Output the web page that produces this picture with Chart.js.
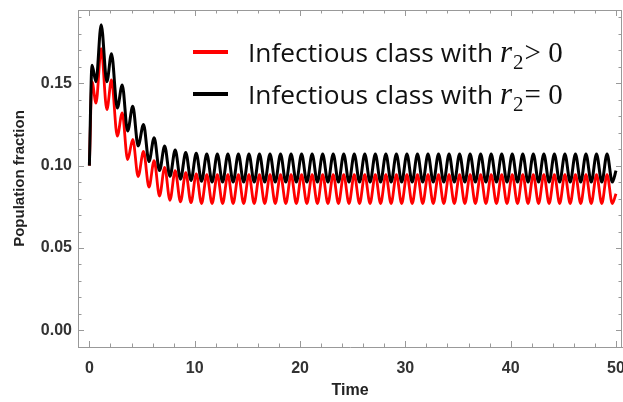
<!DOCTYPE html>
<html><head><meta charset="utf-8">
<script src="https://cdn.jsdelivr.net/npm/chart.js@4.4.1/dist/chart.umd.min.js"></script>
<style>html,body{margin:0;padding:0;background:#fff;overflow:hidden}#c{display:block}</style>
</head><body>
<canvas id="c" width="623" height="402"></canvas>
<script>
// ---- data ----
const times = [0,
  0.25, 0.63, 1.12, 1.66, 2.10, 2.65, 3.12, 3.63, 4.12, 4.63,
  5.14, 5.66, 6.15, 6.66, 7.15, 7.65, 8.15, 8.65, 9.15, 9.65,
  10.15, 10.65, 11.15, 11.65, 12.15, 12.65, 13.15, 13.65, 14.15, 14.65,
  15.15, 15.65, 16.15, 16.65, 17.15, 17.65, 18.15, 18.65, 19.15, 19.65,
  20.15, 20.65, 21.15, 21.65, 22.15, 22.65, 23.15, 23.65, 24.15, 24.65,
  25.15, 25.65, 26.15, 26.65, 27.15, 27.65, 28.15, 28.65, 29.15, 29.65,
  30.15, 30.65, 31.15, 31.65, 32.15, 32.65, 33.15, 33.65, 34.15, 34.65,
  35.15, 35.65, 36.15, 36.65, 37.15, 37.65, 38.15, 38.65, 39.15, 39.65,
  40.15, 40.65, 41.15, 41.65, 42.15, 42.65, 43.15, 43.65, 44.15, 44.65,
  45.15, 45.65, 46.15, 46.65, 47.15, 47.65, 48.15, 48.65, 49.15, 49.65,
  50];

const infectiousR2Positive = [0.100,
  0.151, 0.138, 0.171, 0.134, 0.152, 0.118, 0.132, 0.1036, 0.116, 0.0934,
  0.1086, 0.087, 0.103, 0.0815, 0.099, 0.079, 0.097, 0.078, 0.0957, 0.0775,
  0.095, 0.077, 0.0945, 0.077, 0.0945, 0.077, 0.0945, 0.077, 0.0945, 0.077,
  0.0945, 0.077, 0.0945, 0.077, 0.0945, 0.077, 0.0945, 0.077, 0.0945, 0.077,
  0.0945, 0.077, 0.0945, 0.077, 0.0945, 0.077, 0.0945, 0.077, 0.0945, 0.077,
  0.0945, 0.077, 0.0945, 0.077, 0.0945, 0.077, 0.0945, 0.077, 0.0945, 0.077,
  0.0945, 0.077, 0.0945, 0.077, 0.0945, 0.077, 0.0945, 0.077, 0.0945, 0.077,
  0.0945, 0.077, 0.0945, 0.077, 0.0945, 0.077, 0.0945, 0.077, 0.0945, 0.077,
  0.0945, 0.077, 0.0945, 0.077, 0.0945, 0.077, 0.0945, 0.077, 0.0945, 0.077,
  0.0945, 0.077, 0.0945, 0.077, 0.0945, 0.077, 0.0945, 0.077, 0.0945, 0.077,
  0.083];

const infectiousR2Zero = [0.100,
  0.161, 0.151, 0.1856, 0.151, 0.168, 0.135, 0.149, 0.121, 0.136, 0.112,
  0.125, 0.1025, 0.117, 0.097, 0.112, 0.0935, 0.1095, 0.0918, 0.108, 0.091,
  0.1075, 0.0905, 0.107, 0.090, 0.107, 0.090, 0.107, 0.090, 0.107, 0.090,
  0.107, 0.090, 0.107, 0.090, 0.107, 0.090, 0.107, 0.090, 0.107, 0.090,
  0.107, 0.090, 0.107, 0.090, 0.107, 0.090, 0.107, 0.090, 0.107, 0.090,
  0.107, 0.090, 0.107, 0.090, 0.107, 0.090, 0.107, 0.090, 0.107, 0.090,
  0.107, 0.090, 0.107, 0.090, 0.107, 0.090, 0.107, 0.090, 0.107, 0.090,
  0.107, 0.090, 0.107, 0.090, 0.107, 0.090, 0.107, 0.090, 0.107, 0.090,
  0.107, 0.090, 0.107, 0.090, 0.107, 0.090, 0.107, 0.090, 0.107, 0.090,
  0.107, 0.090, 0.107, 0.090, 0.107, 0.090, 0.107, 0.090, 0.107, 0.090,
  0.097];

const xTickLabels = [0, 10, 20, 30, 40, 50];
const yTickLabels = ["0.00", "0.05", "0.10", "0.15"];
const legendTexts = ["Infectious class with ", "Infectious class with "];
const legendRelations = ["> 0", "= 0"];
const seriesColors = ["#ff0000", "#000000"];

// ---- helpers ----
const toPoints = (ys) => times.map((t, i) => ({x: t, y: ys[i]}));
const isMajorY = (v) => yTickLabels.some(l => Math.abs(parseFloat(l) - v) < 1e-9);
const isMajorX = (v) => xTickLabels.some(l => Math.abs(l - v) < 1e-9);
const AXIS_GRAY = '#999999';
const LABEL_FONT = {family: '"Liberation Sans", Arial, sans-serif', size: 16, weight: 'bold'};

const frameTicks = {
  id: 'frameTicks',
  afterDatasetsDraw(chart) {
    const {ctx, chartArea: a, scales: {x, y}} = chart;
    ctx.save();
    ctx.strokeStyle = AXIS_GRAY;
    ctx.lineWidth = 1;
    ctx.beginPath();
    ctx.moveTo(a.left, a.top + 0.5); ctx.lineTo(a.right, a.top + 0.5);
    ctx.moveTo(a.right - 0.5, a.top); ctx.lineTo(a.right - 0.5, a.bottom);
    x.ticks.forEach(t => {
      const px = Math.round(x.getPixelForValue(t.value)) + 0.5;
      const L = isMajorX(t.value) ? 6 : 3.5;
      ctx.moveTo(px, a.bottom); ctx.lineTo(px, a.bottom - L);
      ctx.moveTo(px, a.top); ctx.lineTo(px, a.top + L);
    });
    y.ticks.forEach(t => {
      if (t.value < y.min || t.value > y.max) return;
      const py = Math.round(y.getPixelForValue(t.value)) + 0.5;
      const L = isMajorY(t.value) ? 6 : 3.5;
      ctx.moveTo(a.left, py); ctx.lineTo(a.left + L, py);
      ctx.moveTo(a.right, py); ctx.lineTo(a.right - L, py);
    });
    ctx.stroke();
    ctx.restore();
  }
};

const mathLegend = {
  id: 'mathLegend',
  afterDraw(chart) {
    const ctx = chart.ctx;
    ctx.save();
    legendTexts.forEach((txt, i) => {
      const yc = 52 + i * 42;
      ctx.strokeStyle = seriesColors[i];
      ctx.lineWidth = 4;
      ctx.beginPath(); ctx.moveTo(193, yc); ctx.lineTo(228, yc); ctx.stroke();
      const base = yc + 10;
      ctx.fillStyle = '#111';
      ctx.textBaseline = 'alphabetic';
      ctx.textAlign = 'left';
      ctx.font = '26px "Open Sans", "Noto Sans", sans-serif';
      const w = ctx.measureText(txt).width;
      const target = 252;
      ctx.save();
      ctx.translate(248, base);
      ctx.scale(target / w, 1);
      ctx.fillText(txt, 0, 0);
      ctx.restore();
      let xx = 248 + target;
      ctx.font = 'italic 31px "Liberation Serif", "DejaVu Serif", serif';
      ctx.fillText('r', xx, base);
      xx += ctx.measureText('r').width + 1;
      ctx.font = '21px "Liberation Serif", "DejaVu Serif", serif';
      ctx.fillText('2', xx, base + 7);
      xx += ctx.measureText('2').width + 1;
      ctx.font = '29px "Liberation Serif", "DejaVu Serif", serif';
      ctx.fillText(legendRelations[i], xx, base);
    });
    ctx.restore();
  }
};

new Chart(document.getElementById('c'), {
  type: 'line',
  data: {
    datasets: [
      {label: 'Infectious class with r2 > 0', data: toPoints(infectiousR2Positive),
       borderColor: seriesColors[0], borderWidth: 2.8, pointRadius: 0, fill: false,
       cubicInterpolationMode: 'monotone', order: 1},
      {label: 'Infectious class with r2 = 0', data: toPoints(infectiousR2Zero),
       borderColor: seriesColors[1], borderWidth: 3, pointRadius: 0, fill: false,
       cubicInterpolationMode: 'monotone', order: 0}
    ]
  },
  options: {
    responsive: false,
    animation: false,
    devicePixelRatio: 1,
    layout: {padding: {left: 0, right: 1, top: 10, bottom: 0}},
    plugins: {legend: {display: false}, tooltip: {enabled: false}},
    scales: {
      x: {
        type: 'linear', min: -1.08, max: 50.57,
        afterFit: (s) => { s.height = 55; s.paddingLeft = 0; s.paddingRight = 0; },
        grid: {display: false, drawTicks: false},
        border: {display: true, color: AXIS_GRAY, width: 1},
        ticks: {stepSize: 2, includeBounds: false, autoSkip: false, maxRotation: 0,
          padding: 12, color: '#333', font: LABEL_FONT,
          callback: (v) => isMajorX(v) ? String(v) : ''},
        title: {display: true, text: 'Time', color: '#222', font: {family: LABEL_FONT.family, size: 16, weight: 'bold'},
          padding: {top: 0, bottom: 2}}
      },
      y: {
        type: 'linear', min: -0.0101, max: 0.1945,
        afterFit: (s) => { s.width = 78; s.paddingTop = 0; s.paddingBottom = 0; },
        grid: {display: false, drawTicks: false},
        border: {display: true, color: AXIS_GRAY, width: 1},
        ticks: {stepSize: 0.01, includeBounds: false, autoSkip: false,
          padding: 6, color: '#333', font: LABEL_FONT,
          callback: (v) => isMajorY(v) ? v.toFixed(2) : ''},
        title: {display: true, text: 'Population fraction', color: '#222', font: {family: LABEL_FONT.family, size: 15, weight: 'bold'},
          padding: {top: 11, bottom: 0}}
      }
    }
  },
  plugins: [frameTicks, mathLegend]
});
</script>
</body></html>
